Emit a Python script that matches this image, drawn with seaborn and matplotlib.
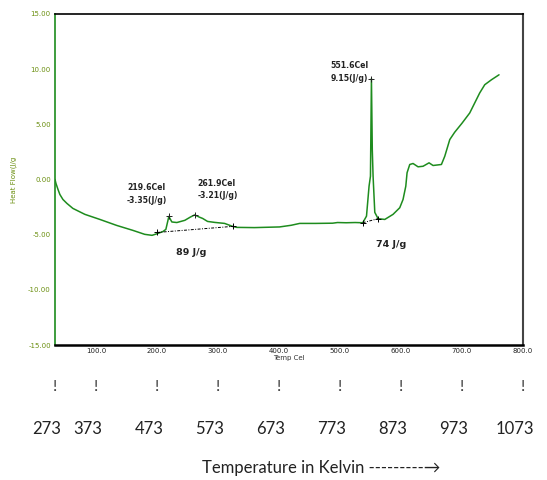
import matplotlib
matplotlib.use("Agg")
import matplotlib.pyplot as plt
import matplotlib.transforms as mtransforms
import seaborn as sns
import pandas as pd

# ---- data ----
temp_c = [33, 34.6, 37.9, 41, 46, 52.6, 62.3, 82, 106.6, 134, 160.6, 180, 192, 200,
          209.8, 214.7, 219.6, 224.5, 232.7, 245.8, 255, 261.9, 270, 275, 283, 295,
          311, 324, 331, 360, 401, 420, 434, 460, 488, 496, 510, 525, 537.4,
          543.5, 547.7, 550, 551.6, 553, 554.3, 557.1, 562.5, 573.5, 587, 598,
          603.4, 607.9, 610, 614.4, 619.8, 628, 636.2, 646, 652.6, 666.3, 671.8,
          680, 688, 700, 712.7, 729, 737.3, 748.3, 760.7]
heat_flow = [0.0, -0.36, -0.90, -1.36, -1.81, -2.17, -2.62, -3.16, -3.62, -4.16,
             -4.61, -4.97, -5.06, -4.92, -4.72, -4.52, -3.35, -3.85, -3.90, -3.70,
             -3.40, -3.21, -3.42, -3.53, -3.80, -3.89, -3.98, -4.25, -4.34, -4.36,
             -4.30, -4.15, -3.98, -3.98, -3.96, -3.90, -3.92, -3.90, -3.92,
             -3.32, -0.61, 0.30, 9.15, 2.70, 0.30, -2.98, -3.55, -3.62, -3.16,
             -2.56, -1.81, -0.61, 0.61, 1.36, 1.45, 1.15, 1.20, 1.51, 1.27, 1.36,
             2.11, 3.62, 4.28, 5.10, 6.03, 7.84, 8.59, 9.04, 9.49]

base1_x = [200, 324]
base1_y = [-4.80, -4.25]
base2_x = [537.4, 562.5]
base2_y = [-3.92, -3.55]

peak_x = [219.6, 261.9, 551.6]
peak_y = [-3.35, -3.21, 9.15]
peak_labels = ["219.6Cel\n-3.35(J/g)", "261.9Cel\n-3.21(J/g)", "551.6Cel\n9.15(J/g)"]
peak_label_pos = [(151, -0.35), (266, 0.05), (485, 10.7)]

area_labels = ["89 J/g", "74 J/g"]
area_pos = [(257, -6.6), (584, -5.9)]

y_ticks = [15, 10, 5, 0, -5, -10, -15]
x_ticks = [100, 200, 300, 400, 500, 600, 700, 800]
kelvin_labels = ["273", "373", "473", "573", "673", "773", "873", "973", "1073"]
kelvin_pos_c = [33, 100, 200, 300, 400, 500, 600, 700, 800]

x_min, x_max = 33, 800

# ---- figure ----
sns.set_theme(style="white")
plt.rcParams["font.family"] = ["DejaVu Sans"]

fig = plt.figure(figsize=(5.47, 4.80), dpi=100)
ax = fig.add_axes([55 / 547, 1 - 345 / 480, (523 - 55) / 547, (345 - 14) / 480])

df = pd.DataFrame({"Temp": temp_c, "HeatFlow": heat_flow})
sns.lineplot(data=df, x="Temp", y="HeatFlow", ax=ax, color="#1e8c1e",
             linewidth=1.1, sort=False)

for bx, by in [(base1_x, base1_y), (base2_x, base2_y)]:
    ax.plot(bx, by, color="black", linewidth=0.7, linestyle=(0, (3, 1.5, 1, 1.5)),
            marker="+", markersize=4, markeredgewidth=0.7)

ax.plot(peak_x, peak_y, linestyle="none", marker="+", color="#222222",
        markersize=4, markeredgewidth=0.7)

for lbl, (tx, ty) in zip(peak_labels, peak_label_pos):
    ax.text(tx, ty, lbl, fontsize=5.6, fontweight="bold", color="#222222",
            linespacing=1.45, va="top", ha="left")

for lbl, (tx, ty) in zip(area_labels, area_pos):
    ax.text(tx, ty, lbl, fontsize=6.8, fontweight="bold", color="#222222",
            ha="center", va="center")

ax.set_xlim(x_min, x_max)
ax.set_ylim(-15, 15)
ax.set_yticks(y_ticks)
ax.set_yticklabels([f"{v:.2f}" for v in y_ticks], fontsize=5, color="#6b8f10")
ax.set_xticks(x_ticks)
ax.set_xticklabels([f"{v:.1f}" for v in x_ticks], fontsize=5, color="#222222")
ax.tick_params(axis="y", direction="in", length=3, width=1, color="#1e8c1e", pad=3)
ax.tick_params(axis="x", direction="in", length=3, width=1, color="black", pad=2)
ax.set_xlabel("Temp Cel", fontsize=5, color="#333333", labelpad=1)
ax.set_ylabel("Heat Flow(J/g", fontsize=5, color="#6b8f10", labelpad=8)

ax.spines["left"].set_color("#1e8c1e")
ax.spines["left"].set_linewidth(1.2)
ax.spines["bottom"].set_color("black")
ax.spines["bottom"].set_linewidth(1.8)
ax.spines["top"].set_color("black")
ax.spines["top"].set_linewidth(1.2)
ax.spines["right"].set_color("#444444")
ax.spines["right"].set_linewidth(1.5)

# ---- Kelvin scale drawn under the plot ----
trans = mtransforms.blended_transform_factory(ax.transData, fig.transFigure)
trans_num = mtransforms.offset_copy(trans, fig=fig, x=-8, y=0, units="dots")
for lbl, xc in zip(kelvin_labels, kelvin_pos_c):
    ax.text(xc, 1 - 387 / 480, "!", transform=trans, fontsize=11.5,
            family=["Lato", "DejaVu Sans"], color="#333333",
            ha="center", va="center", clip_on=False)
    ax.text(xc, 1 - 429 / 480, lbl, transform=trans_num, fontsize=12,
            family=["Lato", "DejaVu Sans"], color="#222222",
            ha="center", va="center", clip_on=False)

fig.text(321 / 547, 1 - 468 / 480, "Temperature in Kelvin ---------\u2192",
         fontsize=12, family=["Lato", "DejaVu Sans"], color="#222222",
         ha="center", va="center")

fig.savefig("out.png", dpi=100)
